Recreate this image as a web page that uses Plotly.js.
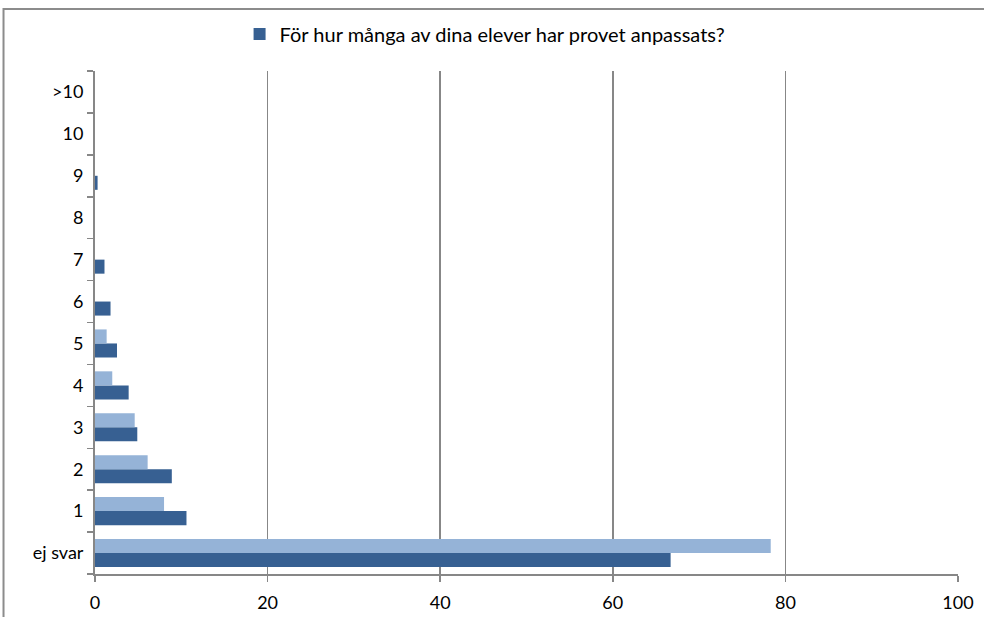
<!DOCTYPE html>
<html>
<head>
<meta charset="utf-8">
<script src="https://cdn.plot.ly/plotly-3.0.1.min.js"></script>
<style>html,body{margin:0;padding:0;background:#fff;}#chart{width:984px;height:617px;}</style>
</head>
<body>
<div id="chart"></div>
<script>
const categories = ['ej svar', '1', '2', '3', '4', '5', '6', '7', '8', '9', '10', '>10'];
const seriesDarkName = 'För hur många av dina elever har provet anpassats?';
const seriesDark = [66.7, 10.6, 8.9, 4.9, 3.9, 2.55, 1.8, 1.1, 0, 0.3, 0, 0];
const seriesLight = [78.3, 8.0, 6.1, 4.6, 2.0, 1.35, 0, 0, 0, 0, 0, 0];
const xTicks = [0, 20, 40, 60, 80, 100];

const gray = '#878787';
const font = 'Lato, "Open Sans", "Liberation Sans", sans-serif';

const traces = [
  {
    type: 'bar', orientation: 'h', name: seriesDarkName,
    y: categories, x: seriesDark,
    marker: {color: '#376092'}, showlegend: true
  },
  {
    type: 'bar', orientation: 'h', name: '',
    y: categories, x: seriesLight,
    marker: {color: '#95B3D7'}, showlegend: false
  }
];

const layout = {
  width: 984, height: 617,
  margin: {l: 95, r: 26, t: 71, b: 43, pad: 0},
  paper_bgcolor: '#ffffff', plot_bgcolor: '#ffffff',
  barmode: 'group', bargap: 0.33, bargroupgap: 0,
  font: {family: font, size: 18, color: '#000'},
  showlegend: true,
  legend: {
    orientation: 'h', x: 0.452, xanchor: 'center', y: 1.0736, yanchor: 'middle',
    font: {family: font, size: 20, color: '#000'},
    itemwidth: 30, bgcolor: 'rgba(0,0,0,0)'
  },
  xaxis: {
    range: [0, 100], tickvals: xTicks, ticktext: xTicks.map(String),
    showgrid: true, gridcolor: gray, gridwidth: 1.5,
    zeroline: false, showline: true, linecolor: gray, linewidth: 2,
    ticks: 'outside', ticklen: 6, tickcolor: gray, tickwidth: 1.5,
    ticklabelstandoff: 5,
    tickfont: {family: font, size: 18, color: '#000'}, fixedrange: true
  },
  yaxis: {
    type: 'category', categoryorder: 'array', categoryarray: categories,
    showgrid: false, zeroline: false, showline: true, linecolor: gray, linewidth: 2,
    ticks: 'outside', tickson: 'boundaries', ticklen: 6, tickcolor: gray, tickwidth: 1.5,
    tickfont: {family: font, size: 18, color: '#000'}, ticklabelstandoff: 6, fixedrange: true
  },
  shapes: [{
    type: 'rect', xref: 'paper', yref: 'paper',
    x0: -0.106, x1: 1.5, y0: -0.5, y1: 1.1233,
    line: {color: '#8c8c8c', width: 2}, fillcolor: 'rgba(0,0,0,0)', layer: 'below'
  }]
};

Plotly.newPlot('chart', traces, layout, {staticPlot: true, displayModeBar: false});
</script>
</body>
</html>
